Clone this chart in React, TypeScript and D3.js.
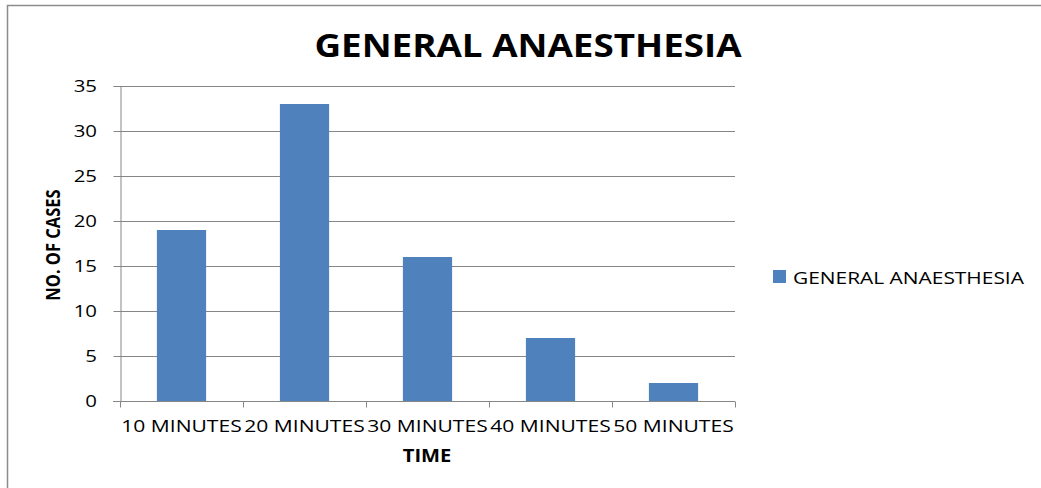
import React, { useEffect, useRef } from 'react';
import * as d3 from 'd3';

const CATEGORIES = ['10 MINUTES', '20 MINUTES', '30 MINUTES', '40 MINUTES', '50 MINUTES'];
const CASES = [19, 33, 16, 7, 2];
const Y_TICKS = [0, 5, 10, 15, 20, 25, 30, 35];
const SERIES_NAME = 'GENERAL ANAESTHESIA';

const W = 1041;
const H = 488;
const FONT = '"Open Sans", sans-serif';
const SX = 1.2; // the original text is a little wider than Open Sans

type Sel = d3.Selection<any, unknown, null, undefined>;

// text with a horizontal stretch around its anchor point
const addText = (parent: Sel, x: number, y: number, str: string, size: number, bold = false, anchor = 'start', sx = SX) => {
    const g = parent.append('g').attr('transform', `translate(${x},${y}) scale(${sx},1)`);
    g.append('text')
        .attr('text-anchor', anchor)
        .style('font-family', FONT)
        .style('font-size', `${size}px`)
        .style('font-weight', bold ? 'bold' : 'normal')
        .attr('fill', '#000')
        .text(str);
    return g;
};

const App = () => {
    const svgRef = useRef<SVGSVGElement>(null);

    useEffect(() => {
        const svg = d3.select(svgRef.current) as Sel;
        svg.selectAll('*').remove();

        const margin = { top: 86, left: 120, right: 735, bottom: 401 };

        const x = d3.scaleBand<string>()
            .domain(CATEGORIES)
            .range([margin.left, margin.right])
            .paddingInner(0.6)
            .paddingOuter(0.3);

        const y = d3.scaleLinear()
            .domain([0, 35])
            .range([margin.bottom, margin.top]);

        // outer frame (only left and top visible)
        svg.append('path')
            .attr('d', `M7.5,${H} V5.5 H${W}`)
            .attr('fill', 'none')
            .attr('stroke', '#8c8c8c')
            .attr('stroke-width', 1.5);

        // title
        addText(svg, 528, 57, 'GENERAL ANAESTHESIA', 32, true, 'middle', 1.15);

        // gridlines
        svg.append('g')
            .selectAll('line')
            .data(Y_TICKS.filter(d => d > 0))
            .enter()
            .append('line')
            .attr('x1', margin.left)
            .attr('x2', margin.right)
            .attr('y1', d => Math.round(y(d)) + 0.5)
            .attr('y2', d => Math.round(y(d)) + 0.5)
            .attr('stroke', '#868686')
            .attr('stroke-width', 1);

        // bars
        svg.append('g')
            .selectAll('rect')
            .data(CATEGORIES)
            .enter()
            .append('rect')
            .attr('x', d => x(d)!)
            .attr('width', x.bandwidth())
            .attr('y', (d, i) => y(CASES[i]))
            .attr('height', (d, i) => y(0) - y(CASES[i]))
            .attr('fill', '#4f81bd');

        // y axis
        const yAxis = svg.append('g')
            .attr('transform', `translate(${margin.left + 0.5},0)`)
            .call(d3.axisLeft(y).tickValues(Y_TICKS).tickSize(7).tickFormat(() => ''));
        yAxis.select('.domain').attr('stroke', '#868686');
        yAxis.selectAll('line').attr('stroke', '#868686');
        Y_TICKS.forEach(t => addText(svg, margin.left - 23, y(t) + 6, String(t), 17, false, 'end'));

        // x axis
        const xEdges = d3.range(CATEGORIES.length + 1).map(i => margin.left + i * (margin.right - margin.left) / CATEGORIES.length);
        const xAxis = svg.append('g')
            .attr('transform', `translate(0,${Math.round(y(0)) + 0.5})`);
        xAxis.append('line')
            .attr('x1', margin.left - 7)
            .attr('x2', margin.right)
            .attr('stroke', '#868686');
        xAxis.selectAll('.tk')
            .data(xEdges)
            .enter()
            .append('line')
            .attr('x1', d => Math.round(d) + 0.5)
            .attr('x2', d => Math.round(d) + 0.5)
            .attr('y1', 0)
            .attr('y2', 6)
            .attr('stroke', '#868686');
        CATEGORIES.forEach(c => addText(svg, x(c)! + x.bandwidth() / 2, 432, c, 17, false, 'middle', 1.24));

        // axis titles
        addText(svg, 427, 462, 'TIME', 17.5, true, 'middle', 1.15);

        const yTitle = svg.append('g').attr('transform', 'translate(60,245) scale(1.2,1) rotate(-90)');
        yTitle.append('text')
            .attr('text-anchor', 'middle')
            .style('font-family', FONT)
            .style('font-weight', 'bold')
            .style('font-size', '16.5px')
            .text('NO. OF CASES');

        // legend
        const legend = svg.append('g').attr('transform', 'translate(773,270)');
        legend.append('rect')
            .attr('width', 13)
            .attr('height', 13)
            .attr('fill', '#4f81bd');
        addText(legend, 20, 13.5, SERIES_NAME, 17, false, 'start', 1.23);
    }, []);

    return (
        <svg
            ref={svgRef}
            width={W}
            height={H}
            style={{ position: 'absolute', left: 0, top: 0, background: '#fff' }}
        />
    );
};

export default App;
